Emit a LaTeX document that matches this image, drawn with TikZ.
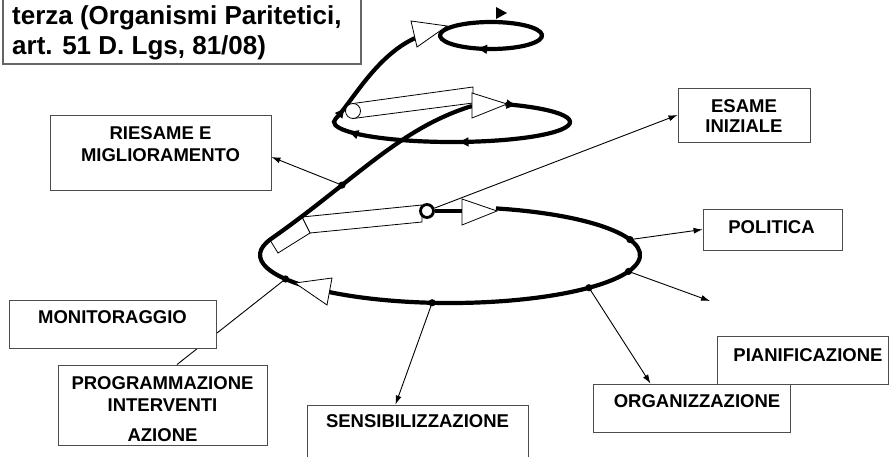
\documentclass[tikz,border=0pt]{standalone}
\usepackage{fontspec}
\setmainfont{Liberation Sans}
\usetikzlibrary{positioning, arrows.meta, calc, decorations.markings}
\tikzset{
>={Latex[length=9pt,width=6pt]}, % filled heads on the thin arrows
spira/.style={line width=4.2pt}, % the thick spiral
casella/.style={draw=black!70, fill=white, line width=0.9pt, inner sep=0pt}, % boxes round the labels
etichetta/.style={font=\bfseries\fontsize{18.5}{22}\selectfont, align=center, inner sep=0pt},
titolo/.style={font=\bfseries\fontsize{26}{30}\selectfont, inner sep=0pt},
freccia/.style={->, line width=0.9pt},
punta/.style={draw=black, fill=white, line width=0.8pt}, % open heads and pipes
verso/.style={postaction={decorate, decoration={markings, mark=at position #1 with {\arrow{Latex[length=11pt,width=10pt]}}}}} % heads on the spiral
}
\begin{document}
\begin{tikzpicture}[x=1pt, y=-1pt]
\useasboundingbox (0,0) rectangle (893,457);
\clip (0,0) rectangle (893,457);

% boxes
\node[draw=black!60, line width=1.8pt, minimum width=358pt, minimum height=80pt, anchor=south west, inner sep=0pt] (terza) at (2,65) {};
\node[titolo, anchor=base west] (riga1) at (12,24.5) {terza (Organismi Paritetici,};
\node[titolo, anchor=base west] (riga2) at (12,54.5) {art. 51 D. Lgs, 81/08)};

\node[casella, minimum width=221pt, minimum height=75pt] (riesame) at (160.5,152.5) {};
\node[etichetta] (tRiesame) at (160.5,144) {RIESAME E\\MIGLIORAMENTO};
\node[casella, minimum width=132pt, minimum height=54pt] (esame) at (744,115) {};
\node[etichetta] (tEsame) at (744,116) {ESAME\\[-2pt]INIZIALE};
\node[casella, minimum width=139pt, minimum height=41pt] (politica) at (772.5,229.5) {};
\node[etichetta] (tPolitica) at (771.5,227) {POLITICA};
\node[casella, minimum width=209pt, minimum height=80pt] (prog) at (162.5,405) {};
\node[etichetta] (tProg) at (162.5,409) {PROGRAMMAZIONE\\INTERVENTI\\[8pt]AZIONE};
\node[casella, minimum width=221pt, minimum height=70pt] (sens) at (417.5,440) {};
\node[etichetta] (tSens) at (417.5,421) {SENSIBILIZZAZIONE};
\node[casella, minimum width=197pt, minimum height=48pt] (org) at (691.5,408) {};
\node[etichetta] (tOrg) at (697,401) {ORGANIZZAZIONE};
\node[casella, minimum width=171pt, minimum height=48pt] (pian) at (802.5,360) {};
\node[etichetta] (tPian) at (808,355) {PIANIFICAZIONE};

% spiral
\coordinate (cG) at (450,255);
\coordinate (cM) at (452,122);
\coordinate (cT) at (491,35.5);
\path[punta] (302,217) -- (422,205) -- (422,222) -- (310,233) -- cycle;
\path[punta] (302,217) -- (270,240) -- (278,253) -- (310,233) -- cycle;
\draw[spira] ($(cG)+(-76:190 and 48)$) arc[start angle=-76, end angle=200, x radius=190, y radius=48]
  .. controls (355,180) and (400,128) .. (472,106) coordinate[pos=0.32] (pRiesame);
\draw[spira, verso=12pt, verso=186pt, verso=297pt, verso=333pt] ($(cM)+(-63:118 and 20)$) arc[start angle=-63, end angle=190, x radius=118, y radius=20]
  .. controls (352,102) and (378,52) .. (420,36);
\draw[spira, verso=170pt] ($(cT)+(-150:51 and 13.5)$) arc[start angle=-150, end angle=210, x radius=51, y radius=13.5];
\fill (496,7) -- (507,13) -- (496,19) -- cycle;

\node[circle, draw, line width=2.8pt, fill=white, minimum size=13pt, inner sep=0pt] (anello) at (427,211) {};
\draw[spira] (anello) -- (462,211);
\path[punta] (353,103.5) -- (473,87) -- (473,103) -- (353,118.5) -- cycle;
\path[punta] (353,111) circle[radius=7.5];
\path[punta] (462,199) -- (497,211) -- (462,225) -- cycle;
\path[punta] (472,93) -- (507,104) -- (472,118) -- cycle;
\path[punta] (411,21) -- (447,26) -- (417,47) -- cycle;
\path[punta] (295,283) -- (332,278) -- (327,305) -- cycle;

% arrows out of the spiral
\coordinate (pPolitica) at ($(cG)+(-18.7:190 and 48)$);
\coordinate (pLibero) at ($(cG)+(20:190 and 48)$);
\coordinate (pOrg) at ($(cG)+(43:190 and 48)$);
\coordinate (pSens) at ($(cG)+(95.4:190 and 48)$);
\coordinate (pProg) at ($(cG)+(150:190 and 48)$);
\coordinate (libero) at (710,301);
\draw[freccia] (pRiesame) -- ([yshift=-4.5pt]riesame.east);
\draw[freccia] (anello) -- (esame.west);
\draw[freccia] (pPolitica) -- (politica.west);
\draw[freccia] (pLibero) -- (libero);
\draw[freccia] (pOrg) -- ([xshift=-41pt]org.north);
\draw[freccia] (pSens) -- ([xshift=-22pt]sens.north);
\draw[line width=0.9pt] (pProg) -- ([xshift=14.5pt]prog.north);

\node[casella, minimum width=207pt, minimum height=48pt] (monitor) at (112.5,324) {};
\node[etichetta] (tMonitor) at (112.5,317) {MONITORAGGIO};

\foreach \p in {pRiesame, pPolitica, pLibero, pOrg, pSens, pProg}
  \fill (\p) circle[radius=3.6];
\end{tikzpicture}
\end{document}
